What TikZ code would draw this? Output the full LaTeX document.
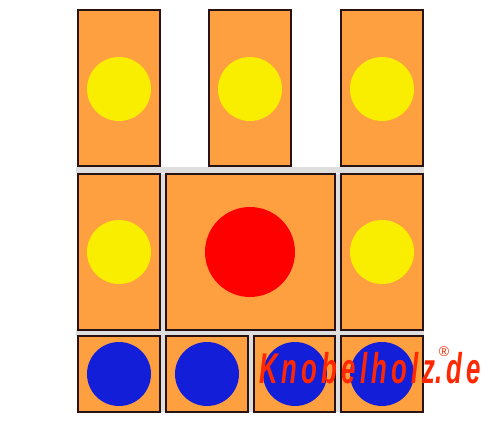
\documentclass[tikz,border=0pt]{standalone}
\usepackage{graphicx}
\usepackage{fontspec}
\setmainfont{Liberation Sans}
\definecolor{blockfill}{RGB}{255,160,64}
\definecolor{blockline}{RGB}{40,18,18}
\definecolor{gapgray}{RGB}{222,222,222}
\definecolor{ylw}{RGB}{250,238,0}
\definecolor{redc}{RGB}{255,0,0}
\definecolor{bluec}{RGB}{18,30,215}
\definecolor{logored}{RGB}{255,40,0}
\tikzset{
  block/.style={draw=blockline, line width=1.6pt, fill=blockfill},
  disc/.style={circle, draw=none, inner sep=0pt, minimum size=#1},
}
\begin{document}
\begin{tikzpicture}[x=1pt,y=-1pt]
\useasboundingbox (0,0) rectangle (500,422);
\fill[white] (0,0) rectangle (500,422);
% light gray gaps
\fill[gapgray] (76,167) rectangle (424,173);
\fill[gapgray] (76,330) rectangle (424,336);
\fill[gapgray] (160,174) rectangle (166,330);
\fill[gapgray] (335,174) rectangle (341,330);
\fill[gapgray] (160,336) rectangle (166,412);
\fill[gapgray] (248,336) rectangle (254,412);
\fill[gapgray] (335,336) rectangle (341,412);
% top row
\draw[block] (78,10) rectangle (160,166);
\draw[block] (209,10) rectangle (291,166);
\draw[block] (341,10) rectangle (423,166);
% middle row
\draw[block] (78,174) rectangle (160,330);
\draw[block] (166,174) rectangle (335,330);
\draw[block] (341,174) rectangle (423,330);
% bottom row
\draw[block] (78,336) rectangle (160,412);
\draw[block] (166,336) rectangle (248,412);
\draw[block] (254,336) rectangle (335,412);
\draw[block] (341,336) rectangle (423,412);
% discs
\node[disc=64pt, fill=ylw] (y1) at (119,89) {};
\node[disc=64pt, fill=ylw] (y2) at (250,89) {};
\node[disc=64pt, fill=ylw] (y3) at (382,89) {};
\node[disc=64pt, fill=ylw] (y4) at (119,252) {};
\node[disc=64pt, fill=ylw] (y5) at (382,252) {};
\node[disc=90pt, fill=redc] (r1) at (250,252) {};
\node[disc=64pt, fill=bluec] (b1) at (119,374) {};
\node[disc=64pt, fill=bluec] (b2) at (207,374) {};
\node[disc=64pt, fill=bluec] (b3) at (295,374) {};
\node[disc=64pt, fill=bluec] (b4) at (382,374) {};
% logo
\node[anchor=base west, inner sep=0pt, text=logored, xscale=0.6,
  font=\fontsize{43}{43}\selectfont\bfseries\itshape\addfontfeature{LetterSpace=16}] (logo) at (259,383)
  {Knobelholz\rlap{\hspace{6pt}\raisebox{27pt}{\scalebox{1.667}[1]{\fontsize{14}{14}\selectfont\mdseries\upshape ®}}}.de};
\end{tikzpicture}
\end{document}
